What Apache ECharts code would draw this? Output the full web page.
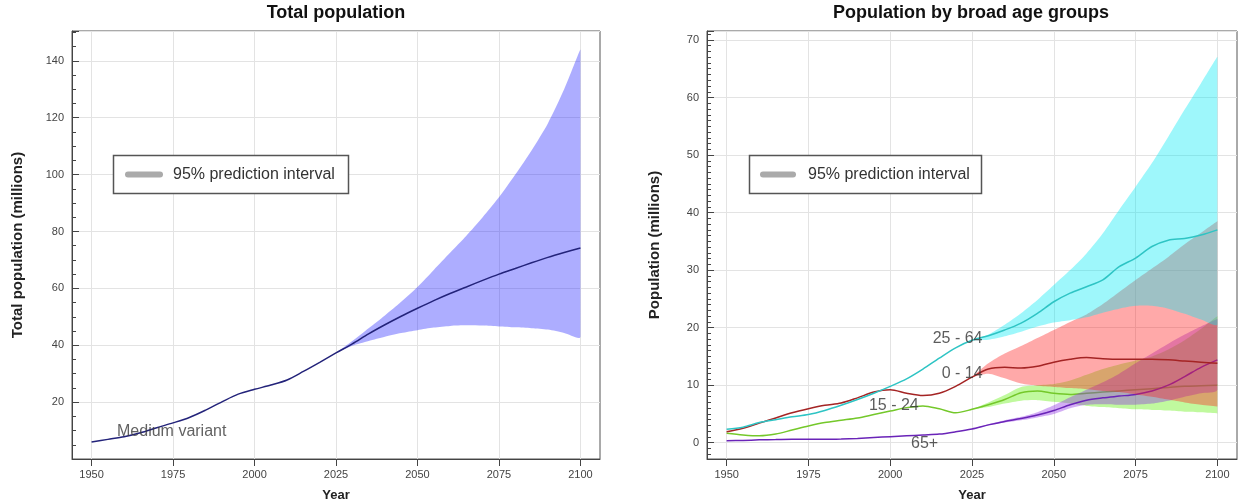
<!DOCTYPE html>
<html><head><meta charset="utf-8">
<script src="https://cdn.jsdelivr.net/npm/echarts@6/dist/echarts.min.js"></script>
<style>html,body{margin:0;padding:0;background:#fff}#c{width:1241px;height:503px}</style>
</head><body><div id="c"></div>
<script>
// ---------- data ----------
const years = [1950,1955,1960,1965,1970,1975,1980,1985,1990,1995,2000,2005,2010,2015,2020,2025,2030,2035,2040,2045,2050,2055,2060,2065,2070,2075,2080,2085,2090,2095,2100];
const projYears = [2025,2030,2035,2040,2045,2050,2055,2060,2065,2070,2075,2080,2085,2090,2095,2100];
const xTicks = [1950,1975,2000,2025,2050,2075,2100];

// Total population (millions), medium variant
const totalMedian = [6.0,6.9,7.8,9.2,11.0,12.7,14.6,17.2,20.1,22.8,24.5,26.0,27.8,30.8,34.0,37.3,40.5,44.0,47.2,50.2,53.0,55.7,58.2,60.5,62.8,65.0,67.0,69.0,70.9,72.6,74.2];
const totalLower = [37.3,39.8,41.5,43.0,44.3,45.3,46.2,46.8,47.0,46.9,46.6,46.3,46.0,45.5,44.3,43.0];
const totalUpper = [37.3,41.5,46.0,50.5,55.3,60.5,66.5,72.5,78.5,85.0,92.0,100.0,108.5,118.0,130.0,144.0];

// Population by broad age groups (millions)
const age0to14 = [1.9,2.5,3.4,4.3,5.2,5.9,6.5,6.9,7.8,8.8,9.2,8.6,8.2,8.6,9.8,11.4,12.8,13.1,13.0,13.3,14.0,14.5,14.8,14.6,14.5,14.5,14.5,14.4,14.2,14.0,13.8];
const age15to24 = [1.65,1.35,1.2,1.5,2.2,2.9,3.5,3.9,4.3,4.9,5.5,6.1,6.4,5.9,5.2,5.8,6.6,7.5,8.7,9.0,8.6,8.4,8.6,8.8,9.0,9.2,9.4,9.6,9.8,9.9,10.0];
const age25to64 = [2.35,2.7,3.5,4.0,4.5,4.9,5.6,6.5,7.5,8.6,9.8,11.1,12.8,14.7,16.5,17.8,18.6,19.6,20.8,22.5,24.5,26.0,27.1,28.3,30.6,32.1,34.1,35.2,35.5,36.1,37.0];
const age65plus = [0.35,0.4,0.5,0.55,0.6,0.6,0.6,0.65,0.75,0.9,1.05,1.2,1.35,1.5,1.9,2.4,3.1,3.7,4.2,4.8,5.6,6.6,7.4,7.8,8.1,8.4,9.0,10.0,11.5,13.1,14.4];

const lo0to14 = [11.4,12.0,11.2,10.3,9.9,9.7,9.5,9.3,9.0,8.8,8.4,8.0,7.5,7.0,6.6,6.3];
const hi0to14 = [11.4,13.8,15.5,16.8,18.2,19.6,21.0,22.3,24.1,26.2,28.3,30.3,32.3,34.5,36.5,38.5];
const lo15to24 = [5.8,6.2,6.8,7.3,7.4,7.1,6.8,6.4,6.2,6.0,5.8,5.7,5.6,5.4,5.3,5.1];
const hi15to24 = [5.8,7.0,8.3,9.7,10.0,10.2,10.8,11.8,12.8,13.6,14.3,15.0,16.2,17.8,19.8,22.0];
const lo25to64 = [17.8,17.9,18.5,19.3,20.2,20.9,21.3,21.8,22.6,23.3,23.8,23.8,23.3,22.4,21.4,20.6];
const hi25to64 = [17.8,18.8,20.5,22.5,24.8,27.4,30.0,32.9,36.4,40.5,44.5,48.6,53.2,57.9,62.5,67.1];
const lo65plus = [2.4,3.0,3.5,3.9,4.4,5.0,6.0,6.6,6.7,6.6,6.6,6.8,7.3,8.0,8.6,9.2];
const hi65plus = [2.4,3.2,3.9,4.5,5.3,6.5,7.9,9.2,10.5,12.0,13.8,15.5,17.2,18.8,20.2,21.5];

// text annotations: [year, value, text]
const mediumLabel = [1974.6, 9.6, 'Medium variant'];
const ageLabels = [[2020.6, 18.1, '25 - 64'], [2022.0, 12.0, '0 - 14'], [2001.1, 6.4, '15 - 24'], [2010.5, -0.2, '65+']];

// ---------- chart ----------
const FONT = "'Liberation Sans', Arial, Helvetica, sans-serif";
const chart = echarts.init(document.getElementById('c'), null, {renderer: 'canvas'});

function pairs(xs, ys) { return xs.map((x, i) => [x, ys[i]]); }

function bandSeries(gi, lo, hi, color, z) {
  return {
    type: 'custom', xAxisIndex: gi, yAxisIndex: gi, silent: true, z: z, clip: true,
    data: [[projYears[0], lo[0]]],
    renderItem: function (params, api) {
      const top = projYears.map((x, i) => api.coord([x, hi[i]]));
      const bot = projYears.map((x, i) => api.coord([x, lo[i]])).reverse();
      const pts = top.concat(bot);
      let minX = Infinity, minY = Infinity, maxX = -Infinity, maxY = -Infinity;
      pts.forEach(p => { minX = Math.min(minX, p[0]); maxX = Math.max(maxX, p[0]); minY = Math.min(minY, p[1]); maxY = Math.max(maxY, p[1]); });
      return {type: 'polygon', shape: {points: pts, smooth: 0.25, smoothConstraint: [[minX, minY], [maxX, maxY]]},
              style: {fill: color}};
    }
  };
}
function lineSeries(gi, ys, color, width, z) {
  return {type: 'line', xAxisIndex: gi, yAxisIndex: gi, data: pairs(years, ys),
    symbol: 'none', smooth: 0.3, silent: true, z: z,
    lineStyle: {color: color, width: width}};
}
function labelSeries(gi, items, size, color) {
  return {type: 'scatter', xAxisIndex: gi, yAxisIndex: gi, symbolSize: 0, silent: true, z: 30,
    data: items.map(d => ({value: [d[0], d[1]], name: d[2]})),
    label: {show: true, position: 'inside', formatter: p => p.name,
      fontFamily: FONT, fontSize: size, color: color}};
}

function xAxis(gi) {
  return {type: 'value', gridIndex: gi, min: 1944, max: 2106,
    name: 'Year', nameLocation: 'middle', nameGap: 30,
    nameTextStyle: {fontFamily: FONT, fontWeight: 'bold', fontSize: 13, color: '#222'},
    axisLine: {show: true, onZero: false, lineStyle: {color: '#444', width: 1}},
    axisTick: {show: true, inside: false, length: 7, customValues: xTicks, lineStyle: {color: '#444'}},
    axisLabel: {customValues: xTicks, fontFamily: FONT, fontSize: 11, color: '#444', margin: 10,
      formatter: v => String(Math.round(v))},
    splitLine: {show: true, lineStyle: {color: '#e3e3e3', width: 1}}};
}

const option = {
  animation: false,
  backgroundColor: '#ffffff',
  grid: [
    {left: 72, right: 641, top: 31, bottom: 44, outerBoundsMode: 'none', containLabel: false, show: true, borderColor: '#555', borderWidth: 1, backgroundColor: 'transparent'},
    {left: 707, right: 4, top: 31, bottom: 44, outerBoundsMode: 'none', containLabel: false, show: true, borderColor: '#555', borderWidth: 1, backgroundColor: 'transparent'}
  ],
  xAxis: [xAxis(0), xAxis(1)],
  yAxis: [
    {type: 'value', gridIndex: 0, min: 0, max: 150.5, interval: 20,
     name: 'Total population (millions)', nameLocation: 'middle', nameGap: 47, nameRotate: 90,
     nameTextStyle: {fontFamily: FONT, fontWeight: 'bold', fontSize: 15, color: '#222'},
     axisLine: {show: true, onZero: false, lineStyle: {color: '#444', width: 1}},
     axisTick: {show: true, inside: true, length: 7, lineStyle: {color: '#444'}},
     minorTick: {show: true, splitNumber: 4, length: 4, lineStyle: {color: '#444'}},
     axisLabel: {fontFamily: FONT, fontSize: 11, color: '#444', margin: 8, showMinLabel: false,
       formatter: v => (v > 0 && v <= 140 && Math.abs(v % 20) < 1e-6) ? String(v) : ''},
     splitLine: {show: true, lineStyle: {color: '#e3e3e3', width: 1}}},
    {type: 'value', gridIndex: 1, min: -2.83, max: 71.56, splitNumber: 7,
     name: 'Population (millions)', nameLocation: 'middle', nameGap: 45, nameRotate: 90,
     nameTextStyle: {fontFamily: FONT, fontWeight: 'bold', fontSize: 15, color: '#222'},
     axisLine: {show: true, onZero: false, lineStyle: {color: '#444', width: 1}},
     axisTick: {show: true, inside: true, length: 7, lineStyle: {color: '#444'}},
     minorTick: {show: true, splitNumber: 10, length: 4, lineStyle: {color: '#444'}},
     axisLabel: {fontFamily: FONT, fontSize: 11, color: '#444', margin: 8,
       formatter: v => (v >= 0 && v <= 70 && Math.abs(v % 10) < 1e-6) ? String(v) : ''},
     splitLine: {show: true, lineStyle: {color: '#e3e3e3', width: 1}}}
  ],
  series: [
    bandSeries(0, totalLower, totalUpper, 'rgba(40,40,255,0.38)', 2),
    lineSeries(0, totalMedian, '#23237a', 1.5, 3),
    labelSeries(0, [mediumLabel], 16, '#3a3a3a'),
    // drawn group by group: 15-24, 65+, 0-14, 25-64 (band, then its line)
    bandSeries(1, lo15to24, hi15to24, 'rgba(90,240,0,0.38)', 2),
    lineSeries(1, age15to24, '#74c82a', 1.5, 3),
    bandSeries(1, lo65plus, hi65plus, 'rgba(140,40,230,0.38)', 4),
    lineSeries(1, age65plus, '#6a24b8', 1.5, 5),
    bandSeries(1, lo0to14, hi0to14, 'rgba(255,30,30,0.38)', 6),
    lineSeries(1, age0to14, '#a42424', 1.5, 7),
    bandSeries(1, lo25to64, hi25to64, 'rgba(0,235,245,0.38)', 8),
    lineSeries(1, age25to64, '#2ec4c4', 1.5, 9),
    labelSeries(1, ageLabels, 16, '#333')
  ],
  graphic: [
    {type: 'text', x: 336, y: 13, style: {text: 'Total population', font: "bold 18px " + FONT, fill: '#111', textAlign: 'center', textVerticalAlign: 'middle'}},
    {type: 'text', x: 971, y: 13, style: {text: 'Population by broad age groups', font: "bold 18px " + FONT, fill: '#111', textAlign: 'center', textVerticalAlign: 'middle'}},
    // legend boxes
    {type: 'rect', shape: {x: 113.5, y: 155.5, width: 235, height: 38}, style: {fill: '#fff', stroke: '#555', lineWidth: 1.5}, z: 100},
    {type: 'line', shape: {x1: 128, y1: 174.5, x2: 160, y2: 174.5}, style: {stroke: '#aaa', lineWidth: 6, lineCap: 'round'}, z: 101},
    {type: 'text', x: 173, y: 175, style: {text: '95% prediction interval', font: "16px " + FONT, fill: '#333', textAlign: 'left', textVerticalAlign: 'middle'}, z: 101},
    {type: 'rect', shape: {x: 749.5, y: 155.5, width: 232, height: 38}, style: {fill: '#fff', stroke: '#555', lineWidth: 1.5}, z: 100},
    {type: 'line', shape: {x1: 763, y1: 174.5, x2: 793, y2: 174.5}, style: {stroke: '#aaa', lineWidth: 6, lineCap: 'round'}, z: 101},
    {type: 'text', x: 808, y: 175, style: {text: '95% prediction interval', font: "16px " + FONT, fill: '#333', textAlign: 'left', textVerticalAlign: 'middle'}, z: 101}
  ]
};
chart.setOption(option);
</script>
</body></html>
